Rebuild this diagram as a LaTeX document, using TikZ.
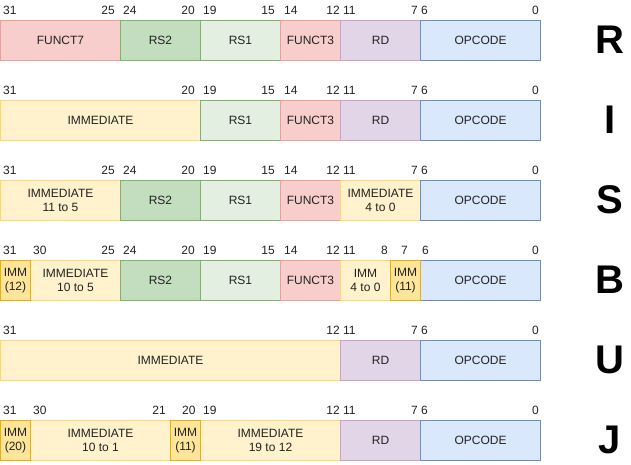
\documentclass[tikz,border=0pt]{standalone}
\usepackage{fontspec}
\setmainfont{Liberation Sans}
\definecolor{redF}{HTML}{F8CECC}\definecolor{redS}{HTML}{F19C99}
\definecolor{grnA}{HTML}{C3DEBF}\definecolor{grnB}{HTML}{E3EFE0}\definecolor{grnS}{HTML}{82B366}
\definecolor{purF}{HTML}{E1D5E7}\definecolor{purS}{HTML}{CDA2BE}
\definecolor{bluF}{HTML}{DAE8FC}\definecolor{bluS}{HTML}{6C8EBF}
\definecolor{yelF}{HTML}{FFF2CC}\definecolor{yelS}{HTML}{FFD966}
\definecolor{golF}{HTML}{FFE599}\definecolor{golS}{HTML}{F0B000}
\definecolor{txt}{HTML}{222222}
\tikzset{
  fld/.style={rectangle,inner sep=0pt,minimum height=40pt,line width=1pt,align=center,text=txt,
    font=\fontsize{12}{14}\selectfont,anchor=north west},
  redb/.style={fld,fill=redF,draw=redS},
  grnb/.style={fld,fill=grnA,draw=grnS},
  grnl/.style={fld,fill=grnB,draw=grnS},
  purb/.style={fld,fill=purF,draw=purS},
  blub/.style={fld,fill=bluF,draw=bluS},
  yelb/.style={fld,fill=yelF,draw=yelS},
  golb/.style={fld,fill=golF,draw=golS},
  bitl/.style={inner sep=0pt,text=txt,font=\fontsize{12}{14}\selectfont},
  lw/.style={bitl,anchor=west},
  le/.style={bitl,anchor=east},
  typ/.style={inner sep=0pt,font=\fontsize{40}{40}\bfseries\selectfont}
}
\newcommand\fld[5]{\node[#4,minimum width=#3pt] (#1) at (#2) {#5};}
\begin{document}
\begin{tikzpicture}[x=1pt,y=-1pt]
\useasboundingbox (0,0) rectangle (631,465);
% R
\fld{rA}{0,20}{120}{redb}{FUNCT7}
\fld{rB}{120,20}{80}{grnb}{RS2}
\fld{rC}{200,20}{80}{grnl}{RS1}
\fld{rD}{280,20}{60}{redb}{FUNCT3}
\fld{rE}{340,20}{80}{purb}{RD}
\fld{rF}{420,20}{120}{blub}{OPCODE}
\node[lw] (r31) at (3,10) {31};\node[le] (r25) at (115,10) {25};
\node[lw] (r24) at (123,10) {24};\node[le] (r20) at (195,10) {20};
\node[lw] (r19) at (203,10) {19};\node[le] (r15) at (275,10) {15};
\node[lw] (r14) at (284,10) {14};\node[le] (r12) at (340,10) {12};
\node[lw] (r11) at (343,10) {11};\node[le] (r7) at (418,10) {7};
\node[lw] (r6) at (421,10) {6};\node[le] (r0) at (539,10) {0};
\node[typ] (tR) at (610,40) {R};
% I
\fld{iA}{0,100}{200}{yelb}{IMMEDIATE}
\fld{iC}{200,100}{80}{grnl}{RS1}
\fld{iD}{280,100}{60}{redb}{FUNCT3}
\fld{iE}{340,100}{80}{purb}{RD}
\fld{iF}{420,100}{120}{blub}{OPCODE}
\node[lw] (i31) at (3,90) {31};\node[le] (i20) at (195,90) {20};
\node[lw] (i19) at (203,90) {19};\node[le] (i15) at (275,90) {15};
\node[lw] (i14) at (284,90) {14};\node[le] (i12) at (340,90) {12};
\node[lw] (i11) at (343,90) {11};\node[le] (i7) at (418,90) {7};
\node[lw] (i6) at (421,90) {6};\node[le] (i0) at (539,90) {0};
\node[typ] (tI) at (610,120) {I};
% S
\fld{sA}{0,180}{120}{yelb}{IMMEDIATE\\11 to 5}
\fld{sB}{120,180}{80}{grnb}{RS2}
\fld{sC}{200,180}{80}{grnl}{RS1}
\fld{sD}{280,180}{60}{redb}{FUNCT3}
\fld{sE}{340,180}{80}{yelb}{IMMEDIATE\\4 to 0}
\fld{sF}{420,180}{120}{blub}{OPCODE}
\node[lw] (s31) at (3,170) {31};\node[le] (s25) at (115,170) {25};
\node[lw] (s24) at (123,170) {24};\node[le] (s20) at (195,170) {20};
\node[lw] (s19) at (203,170) {19};\node[le] (s15) at (275,170) {15};
\node[lw] (s14) at (284,170) {14};\node[le] (s12) at (340,170) {12};
\node[lw] (s11) at (343,170) {11};\node[le] (s7) at (418,170) {7};
\node[lw] (s6) at (421,170) {6};\node[le] (s0) at (539,170) {0};
\node[typ] (tS) at (610,200) {S};
% B
\fld{bB}{30,260}{90}{yelb}{IMMEDIATE\\10 to 5}
\fld{bC}{120,260}{80}{grnb}{RS2}
\fld{bD}{200,260}{80}{grnl}{RS1}
\fld{bE}{280,260}{60}{redb}{FUNCT3}
\fld{bF}{340,260}{50}{yelb}{IMM\\4 to 0}
\fld{bH}{420,260}{120}{blub}{OPCODE}
\fld{bA}{0,260}{30}{golb}{IMM\\(12)}
\fld{bG}{390,260}{30}{golb}{IMM\\(11)}
\node[lw] (b31) at (3,250) {31};\node[lw] (b30) at (33,250) {30};
\node[le] (b25) at (115,250) {25};
\node[lw] (b24) at (123,250) {24};\node[le] (b20) at (195,250) {20};
\node[lw] (b19) at (203,250) {19};\node[le] (b15) at (275,250) {15};
\node[lw] (b14) at (284,250) {14};\node[le] (b12) at (340,250) {12};
\node[lw] (b11) at (343,250) {11};\node[le] (b8) at (388,250) {8};
\node[bitl] (b7) at (404.5,250) {7};
\node[lw] (b6) at (422,250) {6};\node[le] (b0) at (539,250) {0};
\node[typ] (tB) at (610,280) {B};
% U
\fld{uA}{0,340}{340}{yelb}{IMMEDIATE}
\fld{uE}{340,340}{80}{purb}{RD}
\fld{uF}{420,340}{120}{blub}{OPCODE}
\node[lw] (u31) at (3,330) {31};\node[le] (u12) at (340,330) {12};
\node[lw] (u11) at (343,330) {11};\node[le] (u7) at (418,330) {7};
\node[lw] (u6) at (421,330) {6};\node[le] (u0) at (539,330) {0};
\node[typ] (tU) at (610,360) {U};
% J
\fld{jB}{30,420}{140}{yelb}{IMMEDIATE\\10 to 1}
\fld{jD}{200,420}{140}{yelb}{IMMEDIATE\\19 to 12}
\fld{jE}{340,420}{80}{purb}{RD}
\fld{jF}{420,420}{120}{blub}{OPCODE}
\fld{jA}{0,420}{30}{golb}{IMM\\(20)}
\fld{jC}{170,420}{30}{golb}{IMM\\(11)}
\node[lw] (j31) at (3,410) {31};\node[lw] (j30) at (33,410) {30};
\node[le] (j21) at (166,410) {21};\node[lw] (j20) at (182,410) {20};
\node[lw] (j19) at (203,410) {19};\node[le] (j12) at (340,410) {12};
\node[lw] (j11) at (343,410) {11};\node[le] (j7) at (418,410) {7};
\node[lw] (j6) at (421,410) {6};\node[le] (j0) at (539,410) {0};
\node[typ] (tJ) at (610,440) {J};
\end{tikzpicture}
\end{document}
